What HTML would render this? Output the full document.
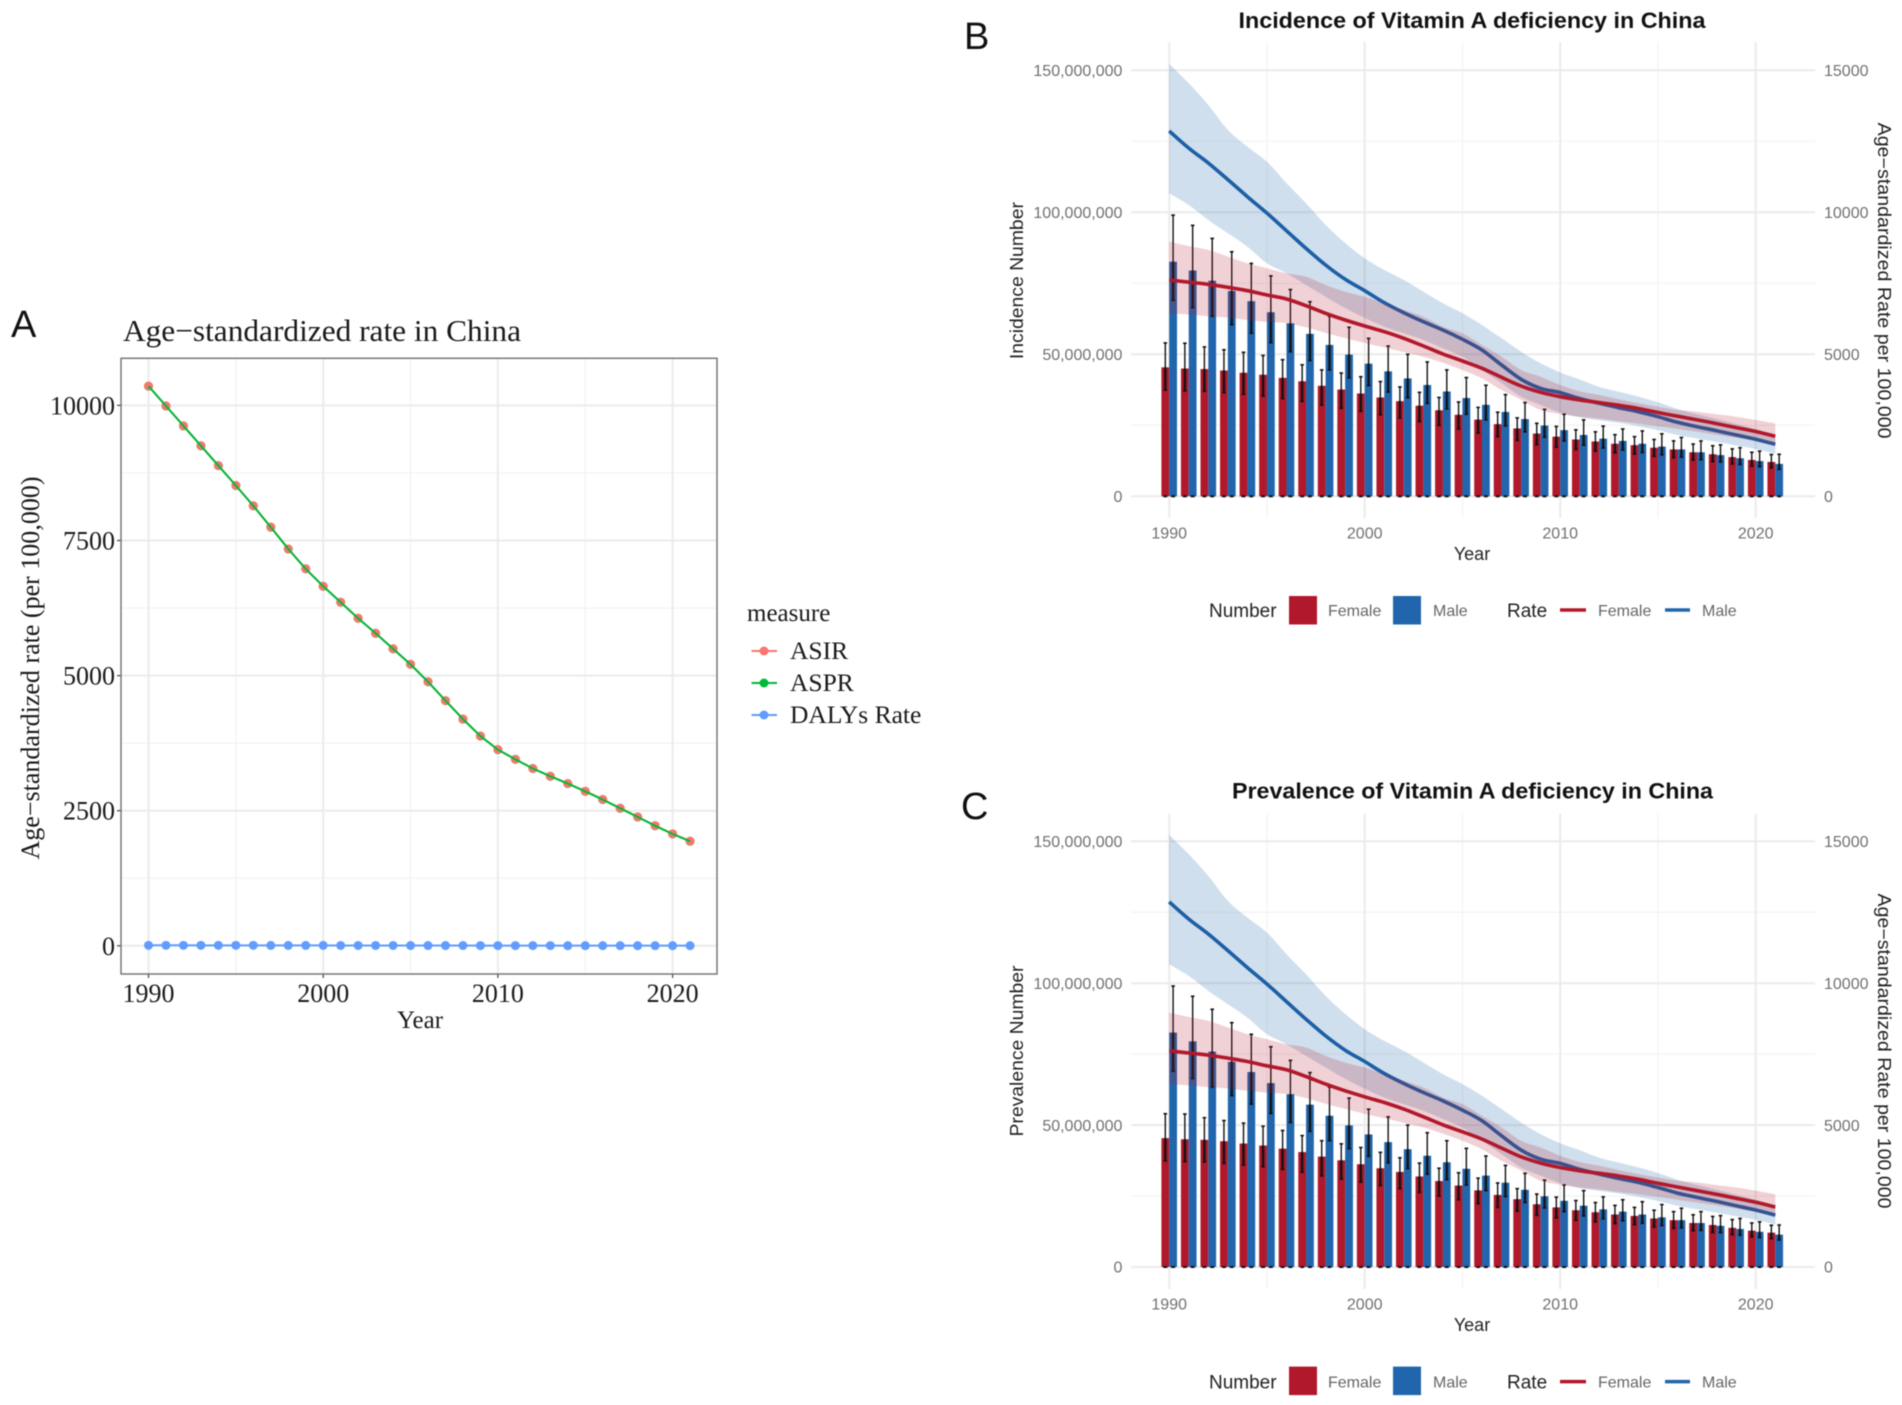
<!DOCTYPE html>
<html lang="en">
<head>
<meta charset="utf-8">
<title>Vitamin A deficiency in China</title>
<style>
html,body{margin:0;padding:0;background:#fff;width:1902px;height:1405px;overflow:hidden}
svg{display:block;filter:blur(0.45px)}
.serif{font-family:"Liberation Serif",serif;fill:#1a1a1a}
.sans{font-family:"Liberation Sans",sans-serif}
.tag{font-family:"Liberation Sans",sans-serif;font-size:38px;fill:#111}
.ptitle{font-family:"Liberation Sans",sans-serif;font-size:22.5px;font-weight:bold;fill:#111;text-anchor:middle}
.atitle{font-family:"Liberation Sans",sans-serif;font-size:18px;fill:#222;text-anchor:middle}
.ltitle{font-family:"Liberation Sans",sans-serif;font-size:19px;fill:#222}
.ltext{font-family:"Liberation Sans",sans-serif;font-size:16px;fill:#666}
</style>
</head>
<body>
<svg id="chart" xmlns="http://www.w3.org/2000/svg" width="1902" height="1405" viewBox="0 0 1902 1405">
  <rect x="0" y="0" width="1902" height="1405" fill="#fff"/>

  <!-- Panel A -->
  <g id="panel-a">
    <text class="tag" x="11" y="337">A</text>
    <text class="serif" x="123" y="341" font-size="31" textLength="398" lengthAdjust="spacingAndGlyphs">Age−standardized rate in China</text>
    <g id="a-plot"></g>
    <text class="serif" x="420" y="1028" font-size="25" text-anchor="middle">Year</text>
    <text class="serif" transform="translate(39,668) rotate(-90)" font-size="26" text-anchor="middle" textLength="383" lengthAdjust="spacingAndGlyphs">Age−standardized rate (per 100,000)</text>
    <g>
      <text class="serif" x="747" y="621" font-size="25">measure</text>
      <g>
        <line x1="751.5" x2="777" y1="651" y2="651" stroke="#F8766D" stroke-width="2"/>
        <circle cx="764" cy="651" r="4.5" fill="#F8766D"/>
        <text class="serif" x="790" y="659" font-size="25.5">ASIR</text>
      </g>
      <g>
        <line x1="751.5" x2="777" y1="683" y2="683" stroke="#00BA38" stroke-width="2"/>
        <circle cx="764" cy="683" r="4.5" fill="#00BA38"/>
        <text class="serif" x="790" y="691" font-size="25.5">ASPR</text>
      </g>
      <g>
        <line x1="751.5" x2="777" y1="715" y2="715" stroke="#619CFF" stroke-width="2"/>
        <circle cx="764" cy="715" r="4.5" fill="#619CFF"/>
        <text class="serif" x="790" y="723" font-size="25.5">DALYs Rate</text>
      </g>
    </g>
  </g>

  <!-- Panel B -->
  <g id="panel-b">
    <text class="tag" x="964" y="49">B</text>
    <text class="ptitle" x="1472" y="27.8" textLength="467" lengthAdjust="spacingAndGlyphs">Incidence of Vitamin A deficiency in China</text>
    <g id="b-plot"></g>
    <text class="atitle" x="1472" y="560">Year</text>
    <text class="atitle" transform="translate(1023,280.6) rotate(-90)" textLength="157" lengthAdjust="spacingAndGlyphs">Incidence Number</text>
    <text class="atitle" transform="translate(1878,280.6) rotate(90)" textLength="316" lengthAdjust="spacingAndGlyphs">Age−standardized Rate per 100,000</text>
    <g>
      <text class="ltitle" x="1209" y="617">Number</text>
      <rect x="1289" y="596" width="28" height="28.5" fill="#B2182B"/>
      <text class="ltext" x="1328" y="616">Female</text>
      <rect x="1393" y="596" width="28" height="28.5" fill="#2166AC"/>
      <text class="ltext" x="1433" y="616">Male</text>
      <text class="ltitle" x="1507" y="617">Rate</text>
      <line x1="1560" x2="1586" y1="610" y2="610" stroke="#B2182B" stroke-width="3.5"/>
      <text class="ltext" x="1598" y="616">Female</text>
      <line x1="1665" x2="1690" y1="610" y2="610" stroke="#2166AC" stroke-width="3.5"/>
      <text class="ltext" x="1702" y="616">Male</text>
    </g>
  </g>

  <!-- Panel C -->
  <g id="panel-c">
    <text class="tag" x="961" y="819">C</text>
    <text class="ptitle" x="1472.5" y="798.4" textLength="481" lengthAdjust="spacingAndGlyphs">Prevalence of Vitamin A deficiency in China</text>
    <g id="c-plot"></g>
    <text class="atitle" x="1472" y="1331">Year</text>
    <text class="atitle" transform="translate(1023,1051) rotate(-90)" textLength="171" lengthAdjust="spacingAndGlyphs">Prevalence Number</text>
    <text class="atitle" transform="translate(1878,1051) rotate(90)" textLength="315" lengthAdjust="spacingAndGlyphs">Age−standardized Rate per 100,000</text>
    <g>
      <text class="ltitle" x="1209" y="1388.5">Number</text>
      <rect x="1289" y="1366.6" width="28" height="28.5" fill="#B2182B"/>
      <text class="ltext" x="1328" y="1387.5">Female</text>
      <rect x="1393" y="1366.6" width="28" height="28.5" fill="#2166AC"/>
      <text class="ltext" x="1433" y="1387.5">Male</text>
      <text class="ltitle" x="1507" y="1388.5">Rate</text>
      <line x1="1560" x2="1586" y1="1381.6" y2="1381.6" stroke="#B2182B" stroke-width="3.5"/>
      <text class="ltext" x="1598" y="1387.5">Female</text>
      <line x1="1665" x2="1690" y1="1381.6" y2="1381.6" stroke="#2166AC" stroke-width="3.5"/>
      <text class="ltext" x="1702" y="1387.5">Male</text>
    </g>
  </g>
</svg>

<script>
const years = [1990,1991,1992,1993,1994,1995,1996,1997,1998,1999,2000,2001,2002,2003,2004,2005,2006,2007,2008,2009,2010,2011,2012,2013,2014,2015,2016,2017,2018,2019,2020,2021];

/* Panel A values */
const asir = [10359,9991,9624,9256,8888,8520,8144,7749,7345,6978,6655,6359,6063,5785,5498,5211,4888,4538,4197,3883,3632,3453,3283,3139,3004,2861,2709,2547,2386,2224,2072,1937];
const aspr = [10355,9988,9620,9252,8885,8517,8141,7746,7342,6975,6652,6356,6060,5782,5495,5208,4885,4535,4194,3880,3629,3450,3280,3136,3001,2858,2706,2544,2383,2221,2069,1934];
const dalysRate = [9,9,9,8,8,8,8,7,7,7,7,6,6,6,6,5,5,5,5,4,4,4,4,4,3,3,3,3,3,3,3,3];
const aYearTicks = [1990,2000,2010,2020];
const aYearMinor = [1995,2005,2015];
const aRateTicks = [0,2500,5000,7500,10000];
const aRateMinor = [1250,3750,6250,8750];

/* Panels B and C: number in millions */
const femaleNumber = [45.4,45.0,44.8,44.3,43.5,42.8,41.7,40.5,38.9,37.6,36.2,34.8,33.5,31.9,30.3,28.7,27.0,25.4,23.9,22.1,21.0,20.0,19.3,18.5,18.0,17.1,16.5,15.5,14.8,13.8,12.8,12.1];
const femaleUpper = [54.0,53.9,52.6,51.6,50.7,49.6,48.1,46.3,44.5,43.4,42.1,40.4,38.5,36.6,34.8,33.2,31.3,29.6,27.6,25.7,24.6,23.4,22.7,21.7,21.0,20.0,19.5,18.4,17.8,16.7,15.5,14.7];
const femaleLower = [37.4,37.1,37.0,36.5,35.9,35.3,34.4,33.4,32.1,31.0,29.9,28.7,27.6,26.3,25.0,23.7,22.3,21.0,19.7,18.2,17.3,16.5,15.9,15.3,14.9,14.1,13.6,12.8,12.2,11.4,10.6,10.0];
const maleNumber = [82.6,79.5,75.9,72.3,68.7,64.8,60.9,57.2,53.3,49.9,46.7,44.0,41.5,39.2,36.9,34.6,32.2,29.7,27.2,24.9,23.3,21.6,20.3,19.5,18.5,17.5,16.5,15.5,14.5,13.4,12.4,11.4];
const maleUpper = [99.0,95.4,90.8,86.1,82.0,77.6,72.8,68.5,63.4,59.5,55.6,52.9,50.0,47.3,44.5,41.8,39.1,35.8,33.0,30.6,28.9,26.9,24.7,23.7,23.0,22.0,20.7,19.5,18.1,17.1,15.9,14.8];
const maleLower = [69.0,66.4,63.4,60.4,57.4,54.1,50.9,47.8,44.5,41.7,39.0,36.7,34.7,32.7,30.8,28.9,26.9,24.8,22.7,20.8,19.5,18.0,17.0,16.3,15.4,14.6,13.8,12.9,12.1,11.2,10.4,9.5];

/* Panels B and C: rate per 100,000 */
const femaleRate = [7620,7540,7465,7360,7240,7088,6947,6711,6443,6208,5996,5796,5563,5292,5011,4764,4507,4190,3884,3662,3507,3391,3300,3205,3090,2950,2820,2690,2560,2420,2280,2113];
const femaleRateUpper = [8965,8810,8673,8440,8204,8028,7852,7733,7440,7204,7028,6796,6560,6324,5972,5739,5327,4915,4447,4211,3919,3700,3567,3415,3275,3155,3039,2979,2887,2803,2687,2570];
const femaleRateLower = [6443,6400,6340,6290,6208,6140,6100,5950,5750,5570,5400,5240,5080,4915,4700,4447,4150,3743,3400,3039,2900,2800,2730,2640,2560,2470,2370,2270,2170,2060,1950,1790];
const maleRate = [12863,12260,11735,11150,10550,9970,9350,8730,8144,7640,7240,6817,6465,6148,5856,5528,5151,4623,4120,3800,3650,3440,3275,3120,2980,2803,2605,2451,2310,2158,2007,1830];
const maleRateUpper = [15222,14542,13778,12900,12310,11782,11021,10317,9553,8919,8380,7968,7616,7204,6796,6443,6032,5563,5092,4683,4360,4112,3850,3680,3510,3310,3075,2890,2725,2545,2370,2160];
const maleRateLower = [10669,10257,9729,9260,8789,8204,7852,7440,7028,6630,6278,5972,5739,5504,5211,4915,4447,3979,3507,3215,2950,2780,2680,2590,2470,2326,2160,2034,1917,1790,1666,1500];

const numberTicks = [0,50,100,150];
const numberTickLabels = ['0','50,000,000','100,000,000','150,000,000'];
const numberMinor = [25,75,125];
const rateTicks = [0,5000,10000,15000];
const rateTickLabels = ['0','5000','10000','15000'];
const yearTicks = [1990,2000,2010,2020];
const yearMinor = [1995,2005,2015];

const NS = 'http://www.w3.org/2000/svg';
function el(tag, attrs, parent, text){
  const e = document.createElementNS(NS, tag);
  for (const k in attrs) e.setAttribute(k, attrs[k]);
  if (text !== undefined) e.textContent = text;
  parent.appendChild(e);
  return e;
}

/* ---------- Panel A ---------- */
(function(){
  const g = document.getElementById('a-plot');
  const L = 121, R = 717, T = 358.3, B = 974;
  const x = y => 148.5 + (y - 1990) * 17.47;
  const y = v => 945.8 - v * 0.054040;

  aRateMinor.forEach(v => {
    const l = el('line', {x1:L, x2:R, y1:y(v), y2:y(v), stroke:'#f2f2f2', 'stroke-width':1.2}, g);
    
    
  });
  aYearMinor.forEach(v => {
    const l = el('line', {x1:x(v), x2:x(v), y1:T, y2:B, stroke:'#f2f2f2', 'stroke-width':1.2}, g);
    
    
  });
  aRateTicks.forEach(v => {
    const l = el('line', {x1:L, x2:R, y1:y(v), y2:y(v), stroke:'#ebebeb', 'stroke-width':2}, g);
    
    
    const t = el('line', {x1:L-4, x2:L, y1:y(v), y2:y(v), stroke:'#444', 'stroke-width':1.2}, g);
    
    
    const lab = el('text', {x:115, y:y(v)+9, 'text-anchor':'end', 'font-size':26, class:'serif'}, g, String(v));
    
    
  });
  aYearTicks.forEach(v => {
    const l = el('line', {x1:x(v), x2:x(v), y1:T, y2:B, stroke:'#ebebeb', 'stroke-width':2}, g);
    
    
    const t = el('line', {x1:x(v), x2:x(v), y1:B, y2:B+4, stroke:'#444', 'stroke-width':1.2}, g);
    
    
    const lab = el('text', {x:x(v), y:1002, 'text-anchor':'middle', 'font-size':26, class:'serif'}, g, String(v));
    
    
  });

  aspr.forEach((v,i) => {
    const c = el('circle', {cx:x(years[i]), cy:y(v), r:4.5, fill:'#00BA38'}, g);
    
    
  });
  asir.forEach((v,i) => {
    const c = el('circle', {cx:x(years[i]), cy:y(v), r:4.5, fill:'#F8766D'}, g);
    
    
  });
  const pts = arr => arr.map((v,i) => x(years[i]).toFixed(1)+','+y(v).toFixed(1)).join(' ');
  const asirLine = el('polyline', {points:pts(asir), fill:'none', stroke:'#F8766D', 'stroke-width':2}, g);
  
  
  const asprLine = el('polyline', {points:pts(aspr), fill:'none', stroke:'#00BA38', 'stroke-width':2}, g);
  
  
  const dalysLine = el('polyline', {points:pts(dalysRate), fill:'none', stroke:'#619CFF', 'stroke-width':2}, g);
  
  
  dalysRate.forEach((v,i) => {
    const c = el('circle', {cx:x(years[i]), cy:y(v), r:4.5, fill:'#619CFF'}, g);
    
    
  });

  const frame = el('rect', {x:L, y:T, width:R-L, height:B-T, fill:'none', stroke:'#6f6f6f', 'stroke-width':1.4}, g);
  
  
})();

/* ---------- Panels B and C ---------- */
function drawPanel(id, y0, perMillion, top, bottom, xLabelY){
  const g = document.getElementById(id);
  const L = 1131, R = 1815;
  const x = yr => 1169.2 + (yr - 1990) * 19.55;
  const yN = v => y0 - v * perMillion;
  const yR = v => y0 - v / 100 * perMillion;
  const barW = 7.8;

  numberMinor.forEach(v => {
    const l = el('line', {x1:L, x2:R, y1:yN(v), y2:yN(v), stroke:'#f3f3f3', 'stroke-width':1.2}, g);
    
    
  });
  yearMinor.forEach(v => {
    const l = el('line', {x1:x(v), x2:x(v), y1:top, y2:bottom, stroke:'#f3f3f3', 'stroke-width':1.2}, g);
    
    
  });
  numberTicks.forEach((v,i) => {
    const l = el('line', {x1:L, x2:R, y1:yN(v), y2:yN(v), stroke:'#ebebeb', 'stroke-width':2}, g);
    
    
    const lab = el('text', {x:1122.4, y:yN(v)+5.7, 'text-anchor':'end', 'font-size':16, class:'sans', fill:'#707070'}, g, numberTickLabels[i]);
    
    
  });
  rateTicks.forEach((v,i) => {
    const lab = el('text', {x:1824, y:yR(v)+5.7, 'font-size':16, class:'sans', fill:'#707070'}, g, rateTickLabels[i]);
    
    
  });
  yearTicks.forEach(v => {
    const l = el('line', {x1:x(v), x2:x(v), y1:top, y2:bottom, stroke:'#ebebeb', 'stroke-width':2}, g);
    
    
    const lab = el('text', {x:x(v), y:xLabelY, 'text-anchor':'middle', 'font-size':16, class:'sans', fill:'#707070'}, g, String(v));
    
    
  });

  years.forEach((yr,i) => {
    const fb = el('rect', {x:x(yr)-barW, y:yN(femaleNumber[i]), width:barW, height:y0-yN(femaleNumber[i]), fill:'#B2182B'}, g);
    
    
    const mb = el('rect', {x:x(yr), y:yN(maleNumber[i]), width:barW, height:y0-yN(maleNumber[i]), fill:'#2166AC'}, g);
    
    
  });

  function errorBar(cx, hi, val, lo, name){
    const a = el('line', {x1:cx, x2:cx, y1:yN(hi), y2:yN(lo), stroke:'#111', 'stroke-width':1.4}, g);
    
    
    const b = el('line', {x1:cx, x2:cx, y1:yN(val), y2:yN(lo), stroke:'#111', 'stroke-width':2.8, 'stroke-opacity':0.7}, g);
    
    
    const c1 = el('line', {x1:cx-1.8, x2:cx+1.8, y1:yN(hi), y2:yN(hi), stroke:'#111', 'stroke-width':1.6}, g);
    
    
    const c2 = el('line', {x1:cx-1.8, x2:cx+1.8, y1:yN(lo), y2:yN(lo), stroke:'#111', 'stroke-width':1.6}, g);
    
    
    const c3 = el('line', {x1:cx-2, x2:cx+2, y1:y0, y2:y0, stroke:'#111', 'stroke-width':2}, g);
    
    
  }
  years.forEach((yr,i) => {
    errorBar(x(yr)-barW/2, femaleUpper[i], femaleNumber[i], femaleLower[i], 'error-bar-female');
    errorBar(x(yr)+barW/2, maleUpper[i], maleNumber[i], maleLower[i], 'error-bar-male');
  });

  /* smooth curve through the yearly values (Catmull-Rom) */
  const toPts = arr => arr.map((v,i) => [x(years[i]), yR(v)]);
  const curve = p => {
    let d = '';
    for (let i = 0; i < p.length - 1; i++) {
      const a = p[Math.max(i-1,0)], b = p[i], c = p[i+1], e = p[Math.min(i+2,p.length-1)];
      d += ' C' + (b[0]+(c[0]-a[0])/6).toFixed(1) + ',' + (b[1]+(c[1]-a[1])/6).toFixed(1) + ' ' +
           (c[0]-(e[0]-b[0])/6).toFixed(1) + ',' + (c[1]-(e[1]-b[1])/6).toFixed(1) + ' ' +
           c[0].toFixed(1) + ',' + c[1].toFixed(1);
    }
    return d;
  };
  const lineD = arr => { const p = toPts(arr); return 'M' + p[0][0].toFixed(1) + ',' + p[0][1].toFixed(1) + curve(p); };
  const ribbonD = (hi,lo) => {
    const up = toPts(hi), dn = toPts(lo).reverse();
    return 'M' + up[0][0].toFixed(1) + ',' + up[0][1].toFixed(1) + curve(up) +
           ' L' + dn[0][0].toFixed(1) + ',' + dn[0][1].toFixed(1) + curve(dn) + ' Z';
  };

  const maleBand = el('path', {d:ribbonD(maleRateUpper, maleRateLower), fill:'#2166AC', 'fill-opacity':0.21}, g);
  
  
  const maleLine = el('path', {d:lineD(maleRate), fill:'none', stroke:'#1c5fa6', 'stroke-width':3.6, 'stroke-linejoin':'round'}, g);
  
  
  const femaleLine = el('path', {d:lineD(femaleRate), fill:'none', stroke:'#B2182B', 'stroke-width':3.6, 'stroke-linejoin':'round'}, g);
  
  
  const femaleBand = el('path', {d:ribbonD(femaleRateUpper, femaleRateLower), fill:'#B2182B', 'fill-opacity':0.2}, g);
  
  
}

drawPanel('b-plot', 496.3, 2.84, 42, 518, 538.5);
drawPanel('c-plot', 1267, 2.838, 813.7, 1289, 1309.5);
</script>
</body>
</html>
